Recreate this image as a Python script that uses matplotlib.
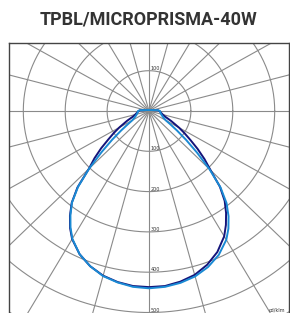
import numpy as np
import matplotlib
matplotlib.use('Agg')
import matplotlib.pyplot as plt

# ---- Data (cd/klm) ----
gamma = [0, 5, 10, 15, 20, 25, 30, 33, 36, 39, 42, 45, 48, 51, 54, 57, 60,
         65, 70, 75, 80, 85, 90, 95, 100, 110, 120, 150, 180]
light_left = [440, 438, 432, 424, 410, 392, 366, 344, 319, 292, 253, 202, 152, 113, 82, 60, 46,
              38, 33, 30, 28, 27, 26, 22, 13, 7, 5, 3, 2.5]
light_right = [440, 438, 433, 425, 412, 394, 369, 348, 323, 294, 255, 204, 154, 114, 83, 61, 46,
               38, 33, 30, 28, 27, 26, 22, 13, 7, 5, 3, 2.5]
dark_left = [437, 436, 431, 423, 410, 392, 367, 346, 321, 293, 255, 203, 175, 147, 120, 100, 82,
             58, 41, 34, 30, 27, 25, 21, 12, 7, 5, 3, 2.5]
dark_right = [437, 436, 430, 421, 406, 386, 359, 337, 313, 287, 253, 208, 178, 149, 122, 101, 83,
              58, 41, 34, 30, 27, 25, 21, 12, 7, 5, 3, 2.5]

rings = [100, 200, 300, 400, 500, 600]
ring_labels = ['100', '200', '300', '400', '500']
spoke_step = 15

title = 'TPBL/MICROPRISMA-40W'
unit = 'cd/klm'

# ---- Figure ----
W, H = 290, 313
fig = plt.figure(figsize=(W / 100, H / 100), dpi=100)
fig.text(148 / W, 1 - 20 / H, title, ha='center', va='center', fontsize=13,
         fontweight='bold', color='#333333', family='Roboto')

# frame from x=9..289 px, top at y=43, bottom just below the picture
ax = fig.add_axes([9 / W, -2 / H, 280 / W, (313 + 2 - 43) / H])
sx = 0.419   # px per cd/klm horizontally
sy = 0.403   # px per cd/klm vertically
cx, cy = 149, 111
ax.set_xlim((9 - cx) / sx, (289 - cx) / sx)
ax.set_ylim(-(315 - cy) / sy, (cy - 43) / sy)
ax.set_xticks([])
ax.set_yticks([])
for s in ax.spines.values():
    s.set_color('#444444')
    s.set_linewidth(1.0)

grid_c = '#8a8a8a'
t = np.linspace(0, 2 * np.pi, 400)
for r in rings:
    ax.plot(r * np.cos(t), r * np.sin(t), color=grid_c, lw=0.8, zorder=1)
big = 2000
for a in range(0, 360, spoke_step):
    ang = np.radians(a)
    ax.plot([0, big * np.sin(ang)], [0, big * np.cos(ang)], color=grid_c, lw=0.8, zorder=1)

# ring labels
ax.text(3, 100, ring_labels[0], fontsize=3.5, color='#333333', ha='left', va='bottom')
for r, lab in zip(rings, ring_labels):
    ax.text(3, -r, lab, fontsize=3.5, color='#333333', ha='left', va='bottom')
ax.text(0.985, 0.01, unit, transform=ax.transAxes, fontsize=3.5, color='#333333',
        ha='right', va='bottom')


def curve(left, right):
    g = np.radians(np.array(gamma, dtype=float))
    xl = -np.array(left) * np.sin(g)
    yl = -np.array(left) * np.cos(g)
    xr = np.array(right) * np.sin(g)
    yr = -np.array(right) * np.cos(g)
    return np.concatenate([xl[::-1], xr]), np.concatenate([yl[::-1], yr])


x, y = curve(dark_left, dark_right)
ax.plot(x, y, color='#14147a', lw=1.4, zorder=3, solid_joinstyle='round')
x, y = curve(light_left, light_right)
ax.plot(x, y, color='#1a8ad4', lw=1.4, zorder=4, solid_joinstyle='round')

fig.savefig('out.png', dpi=100)
